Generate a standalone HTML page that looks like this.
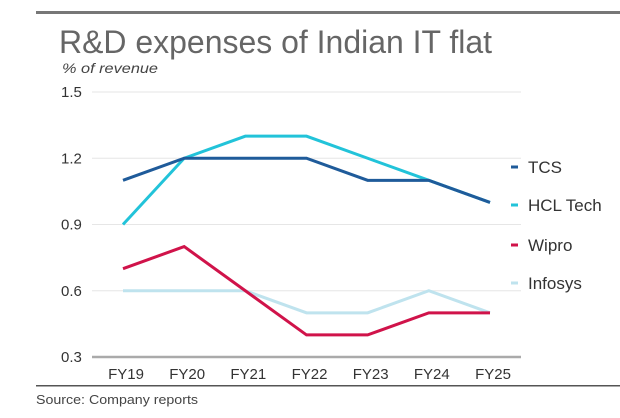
<!DOCTYPE html>
<html><head><meta charset="utf-8"><style>
html,body{margin:0;padding:0;background:#fff;}
svg{display:block;font-family:"Liberation Sans",sans-serif;}
</style></head><body>
<svg id="chart" width="620" height="418" viewBox="0 0 620 418">
<rect x="36" y="11" width="584" height="3" fill="#777"/>
<text x="59" y="53" font-size="32" fill="#666" textLength="433" lengthAdjust="spacingAndGlyphs">R&amp;D expenses of Indian IT flat</text>
<text x="62" y="73" font-size="14" font-style="italic" fill="#444" textLength="96" lengthAdjust="spacingAndGlyphs">% of revenue</text>
<g id="grid"></g><g id="xaxis"></g><g id="series"></g><g id="legend"></g>
<rect x="36" y="385" width="584" height="1.5" fill="#555"/>
<text x="36" y="404" font-size="13" fill="#444" textLength="162" lengthAdjust="spacingAndGlyphs">Source: Company reports</text>
</svg>
<script>
const categories=["FY19","FY20","FY21","FY22","FY23","FY24","FY25"];
const yTicks=[0.3,0.6,0.9,1.2,1.5];
const yTickLabels=["0.3","0.6","0.9","1.2","1.5"];
const seriesNames=["TCS","HCL Tech","Wipro","Infosys"];
const tcs=[1.1,1.2,1.2,1.2,1.1,1.1,1.0];
const hcl=[0.9,1.2,1.3,1.3,1.2,1.1,1.0];
const wipro=[0.7,0.8,0.6,0.4,0.4,0.5,0.5];
const infosys=[0.6,0.6,0.6,0.5,0.5,0.6,0.5];
const NS="http://www.w3.org/2000/svg";
const colors=["#1f5b9a","#22c3d9","#d0134a","#bfe3ee"];
const x0=123,x1=490,yMin=0.3,yMax=1.5,py0=357,py1=92;
function xs(i){return x0+(x1-x0)*i/(categories.length-1);}
function ys(v){return py0-(v-yMin)/(yMax-yMin)*(py0-py1);}
function mk(tag,attrs,parent){const e=document.createElementNS(NS,tag);for(const k in attrs)e.setAttribute(k,attrs[k]);parent.appendChild(e);return e;}
const grid=document.getElementById('grid');
yTicks.forEach((t,i)=>{
  const l=mk('line',{x1:92,x2:521,y1:ys(t),y2:ys(t),stroke:i===0?'#aaa':'#e6e6e6','stroke-width':i===0?2.5:1},grid);
  
  
  const tx=mk('text',{x:61,y:ys(t)+5,'font-size':15,fill:'#333'},grid);
  tx.textContent=yTickLabels[i];
  
  
});
const xa=document.getElementById('xaxis');
categories.forEach((c,i)=>{
  const tx=mk('text',{x:xs(i)+3,y:379,'font-size':15,fill:'#333','text-anchor':'middle'},xa);
  tx.textContent=c;
  
  
});
const sg=document.getElementById('series');
const all=[infosys,wipro,hcl,tcs];const idx=[3,2,1,0];
all.forEach((d,k)=>{
  const j=idx[k];
  const p=mk('polyline',{points:d.map((v,i)=>xs(i)+','+ys(v)).join(' '),fill:'none',stroke:colors[j],'stroke-width':3,'stroke-linejoin':'miter'},sg);
  
  
});
const lg=document.getElementById('legend');
const ly=[167,205,245,283];
seriesNames.forEach((n,i)=>{
  const g=mk('g',{},lg);
  
  
  mk('rect',{x:511,y:ly[i]-1.5,width:7,height:3,fill:colors[i]},g);
  const tx=mk('text',{x:528,y:ly[i]+6,'font-size':17,fill:'#333'},g);
  tx.textContent=n;
});
</script>
</body></html>
